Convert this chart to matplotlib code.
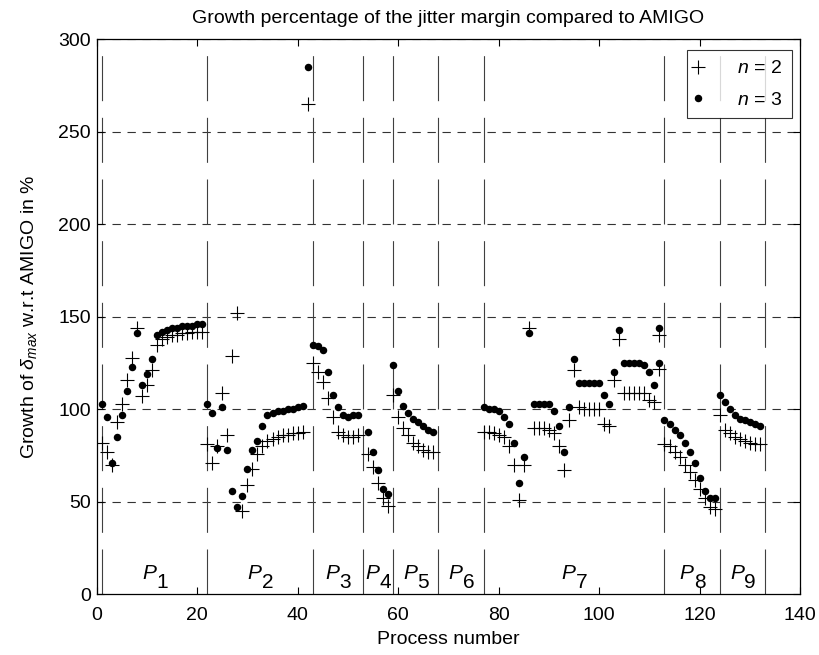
import numpy as np
import matplotlib
matplotlib.use("Agg")
import matplotlib.pyplot as plt

plt.rcParams['font.family'] = ['Liberation Sans', 'DejaVu Sans']
plt.rcParams['mathtext.fontset'] = 'custom'
plt.rcParams['mathtext.rm'] = 'Liberation Sans'
plt.rcParams['mathtext.it'] = 'Liberation Sans:italic'
plt.rcParams['lines.scale_dashes'] = False

# Growth of the jitter margin per process (percent), grouped by process family
p1_x = list(range(1, 22))
p1_n2 = [82, 77, 70, 93, 103, 116, 128, 144, 107, 113, 121, 135, 138, 139, 140, 140, 141, 141, 142, 142, 142]
p1_n3 = [103, 96, 71, 85, 97, 110, 123, 141, 113, 119, 127, 140, 142, 143, 144, 144, 145, 145, 145, 146, 146]

p2_x = list(range(22, 43))
p2_n2 = [81, 71, 80, 109, 86, 129, 152, 45, 59, 68, 76, 80, 83, 84, 85, 86, 86, 87, 87, 88, 265]
p2_n3 = [103, 98, 79, 101, 78, 56, 47, 53, 68, 78, 83, 91, 97, 98, 99, 99, 100, 100, 101, 102, 285]

p3_x = list(range(43, 53))
p3_n2 = [125, 120, 115, 106, 96, 88, 86, 85, 85, 86]
p3_n3 = [135, 134, 132, 120, 108, 101, 97, 96, 97, 97]

p4_x = list(range(54, 59))
p4_n2 = [76, 69, 60, 52, 48]
p4_n3 = [88, 77, 67, 57, 54]

p5_x = list(range(59, 68))
p5_n2 = [108, 96, 90, 86, 82, 80, 78, 77, 77]
p5_n3 = [124, 110, 102, 98, 95, 93, 91, 89, 88]

p7_x = list(range(77, 113))
p7_n2 = [88, 88, 87, 86, 85, 80, 70, 51, 70, 144, 90, 90, 90, 89, 87, 80, 67, 94,
         121, 101, 100, 100, 100, 100, 92, 91, 116, 138, 109, 109, 109, 109, 109, 105, 104, 122]
p7_n3 = [101, 100, 100, 99, 96, 92, 82, 60, 74, 141, 103, 103, 103, 103, 99, 91, 77, 101,
         127, 114, 114, 114, 114, 114, 108, 103, 120, 143, 125, 125, 125, 125, 124, 120, 113, 125]

p8_x = list(range(112, 124))
p8_n2 = [140, 81, 80, 77, 74, 70, 66, 62, 57, 52, 47, 46]
p8_n3 = [144, 94, 92, 89, 86, 82, 77, 71, 63, 56, 52, 52]

p9_x = list(range(124, 133))
p9_n2 = [97, 89, 87, 85, 84, 83, 82, 81, 81]
p9_n3 = [108, 104, 100, 97, 95, 94, 93, 92, 91]

# Process family boundaries and labels
boundaries = [1, 22, 43, 53, 59, 68, 77, 113, 124, 133]
family_labels = ['1', '2', '3', '4', '5', '6', '7', '8', '9']

x_all = p1_x + p2_x + p3_x + p4_x + p5_x + p7_x + p8_x + p9_x
n2_all = p1_n2 + p2_n2 + p3_n2 + p4_n2 + p5_n2 + p7_n2 + p8_n2 + p9_n2
n3_all = p1_n3 + p2_n3 + p3_n3 + p4_n3 + p5_n3 + p7_n3 + p8_n3 + p9_n3

FS = 14

fig = plt.figure(figsize=(8.19, 6.55), dpi=100)
ax = fig.add_axes([0.118, 0.0925, 0.859, 0.8477])

# horizontal grid
for yv in [50, 100, 150, 200, 250, 300]:
    ax.axhline(yv, color='0.2', lw=0.8, linestyle=(0, (6.0, 4.8)), zorder=1)

# family separators
for b in boundaries:
    ax.axvline(b, color='0.25', lw=0.8, linestyle=(0, (32.4, 12.0)), zorder=1)

ax.plot(x_all, n2_all, linestyle='none', marker='+', ms=9.5, mew=0.8,
        color='black', label=r'$n$ = 2', zorder=3)
ax.plot(x_all, n3_all, linestyle='none', marker='o', ms=5.4, mew=0,
        color='black', label=r'$n$ = 3', zorder=3)

# family labels: italic P with a lowered index of the same size
for i, lab in enumerate(family_labels):
    xm = 0.5 * (boundaries[i] + boundaries[i + 1])
    ax.annotate('P', (xm, 8.3), xytext=(-4, 0), textcoords='offset points',
                ha='center', va='baseline', fontsize=15, style='italic')
    ax.annotate(lab, (xm, 3.3), xytext=(5.5, 0), textcoords='offset points',
                ha='center', va='baseline', fontsize=15)

ax.set_xlim(0, 140)
ax.set_ylim(0, 300)
ax.set_xticks(np.arange(0, 141, 20))
ax.set_yticks(np.arange(0, 301, 50))
ax.tick_params(direction='in', top=True, right=True, length=5, width=0.8,
               labelsize=FS)
ax.tick_params(axis='x', pad=9)
ax.tick_params(axis='y', pad=4)
for sp in ax.spines.values():
    sp.set_linewidth(0.9)

ax.set_title('Growth percentage of the jitter margin compared to AMIGO',
             fontsize=FS, pad=12)
ax.set_xlabel('Process number', fontsize=FS, labelpad=5)
ax.set_ylabel(r'Growth of $\delta_{max}$ w.r.t AMIGO in %', fontsize=FS, labelpad=14)

leg = ax.legend(loc='upper right', bbox_to_anchor=(0.9885, 0.9805),
                borderaxespad=0, fontsize=FS, frameon=True, fancybox=False,
                edgecolor='black', handlelength=0.2, handletextpad=1.9,
                borderpad=0.5, labelspacing=0.7)
leg.get_frame().set_linewidth(0.8)

fig.savefig('out.png', dpi=100)
